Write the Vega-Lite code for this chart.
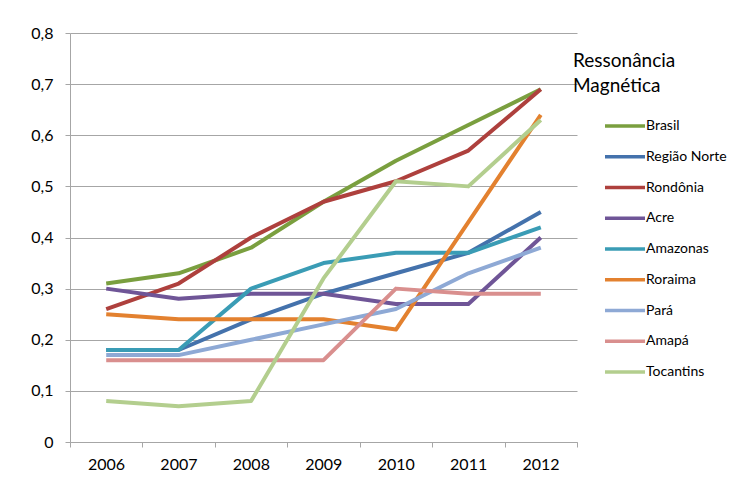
{
  "$schema": "https://vega.github.io/schema/vega-lite/v6.json",
  "width": 507,
  "height": 409,
  "autosize": {"type": "none"},
  "padding": {"left": 70, "top": 33, "right": 156, "bottom": 41},
  "background": "white",
  "config": {
    "font": "Lato",
    "view": {"stroke": null},
    "axis": {"labelFont": "Lato", "labelFontSize": 16, "labelColor": "#000000", "domainColor": "#a6a6a6", "tickColor": "#a6a6a6", "gridColor": "#a6a6a6", "domainWidth": 1, "tickWidth": 1, "gridWidth": 1, "tickSize": 5, "title": null}
  },
  "data": {"values": [
    {"regiao": "Brasil", "ano": 2006, "valor": 0.31},
    {"regiao": "Brasil", "ano": 2007, "valor": 0.33},
    {"regiao": "Brasil", "ano": 2008, "valor": 0.38},
    {"regiao": "Brasil", "ano": 2009, "valor": 0.47},
    {"regiao": "Brasil", "ano": 2010, "valor": 0.55},
    {"regiao": "Brasil", "ano": 2011, "valor": 0.62},
    {"regiao": "Brasil", "ano": 2012, "valor": 0.69},
    {"regiao": "Região Norte", "ano": 2006, "valor": 0.18},
    {"regiao": "Região Norte", "ano": 2007, "valor": 0.18},
    {"regiao": "Região Norte", "ano": 2008, "valor": 0.24},
    {"regiao": "Região Norte", "ano": 2009, "valor": 0.29},
    {"regiao": "Região Norte", "ano": 2010, "valor": 0.33},
    {"regiao": "Região Norte", "ano": 2011, "valor": 0.37},
    {"regiao": "Região Norte", "ano": 2012, "valor": 0.45},
    {"regiao": "Rondônia", "ano": 2006, "valor": 0.26},
    {"regiao": "Rondônia", "ano": 2007, "valor": 0.31},
    {"regiao": "Rondônia", "ano": 2008, "valor": 0.40},
    {"regiao": "Rondônia", "ano": 2009, "valor": 0.47},
    {"regiao": "Rondônia", "ano": 2010, "valor": 0.51},
    {"regiao": "Rondônia", "ano": 2011, "valor": 0.57},
    {"regiao": "Rondônia", "ano": 2012, "valor": 0.69},
    {"regiao": "Acre", "ano": 2006, "valor": 0.30},
    {"regiao": "Acre", "ano": 2007, "valor": 0.28},
    {"regiao": "Acre", "ano": 2008, "valor": 0.29},
    {"regiao": "Acre", "ano": 2009, "valor": 0.29},
    {"regiao": "Acre", "ano": 2010, "valor": 0.27},
    {"regiao": "Acre", "ano": 2011, "valor": 0.27},
    {"regiao": "Acre", "ano": 2012, "valor": 0.40},
    {"regiao": "Amazonas", "ano": 2006, "valor": 0.18},
    {"regiao": "Amazonas", "ano": 2007, "valor": 0.18},
    {"regiao": "Amazonas", "ano": 2008, "valor": 0.30},
    {"regiao": "Amazonas", "ano": 2009, "valor": 0.35},
    {"regiao": "Amazonas", "ano": 2010, "valor": 0.37},
    {"regiao": "Amazonas", "ano": 2011, "valor": 0.37},
    {"regiao": "Amazonas", "ano": 2012, "valor": 0.42},
    {"regiao": "Roraima", "ano": 2006, "valor": 0.25},
    {"regiao": "Roraima", "ano": 2007, "valor": 0.24},
    {"regiao": "Roraima", "ano": 2008, "valor": 0.24},
    {"regiao": "Roraima", "ano": 2009, "valor": 0.24},
    {"regiao": "Roraima", "ano": 2010, "valor": 0.22},
    {"regiao": "Roraima", "ano": 2011, "valor": 0.43},
    {"regiao": "Roraima", "ano": 2012, "valor": 0.64},
    {"regiao": "Pará", "ano": 2006, "valor": 0.17},
    {"regiao": "Pará", "ano": 2007, "valor": 0.17},
    {"regiao": "Pará", "ano": 2008, "valor": 0.20},
    {"regiao": "Pará", "ano": 2009, "valor": 0.23},
    {"regiao": "Pará", "ano": 2010, "valor": 0.26},
    {"regiao": "Pará", "ano": 2011, "valor": 0.33},
    {"regiao": "Pará", "ano": 2012, "valor": 0.38},
    {"regiao": "Amapá", "ano": 2006, "valor": 0.16},
    {"regiao": "Amapá", "ano": 2007, "valor": 0.16},
    {"regiao": "Amapá", "ano": 2008, "valor": 0.16},
    {"regiao": "Amapá", "ano": 2009, "valor": 0.16},
    {"regiao": "Amapá", "ano": 2010, "valor": 0.30},
    {"regiao": "Amapá", "ano": 2011, "valor": 0.29},
    {"regiao": "Amapá", "ano": 2012, "valor": 0.29},
    {"regiao": "Tocantins", "ano": 2006, "valor": 0.08},
    {"regiao": "Tocantins", "ano": 2007, "valor": 0.07},
    {"regiao": "Tocantins", "ano": 2008, "valor": 0.08},
    {"regiao": "Tocantins", "ano": 2009, "valor": 0.32},
    {"regiao": "Tocantins", "ano": 2010, "valor": 0.51},
    {"regiao": "Tocantins", "ano": 2011, "valor": 0.50},
    {"regiao": "Tocantins", "ano": 2012, "valor": 0.63}
  ]},
  "mark": {"type": "line", "strokeWidth": 4, "strokeCap": "butt", "strokeJoin": "round"},
  "encoding": {
    "x": {
      "field": "ano", "type": "quantitative",
      "scale": {"domain": [2005.5, 2012.5], "nice": false, "zero": false},
      "axis": {
        "values": [2005.5, 2006.5, 2007.5, 2008.5, 2009.5, 2010.5, 2011.5, 2012.5],
        "labelExpr": "datum.value < 2012 ? toString(datum.value + 0.5) : ''",
        "labelOffset": 36,
        "labelPadding": 9,
        "labelAlign": "center",
        "labelFlush": false,
        "labelOverlap": false,
        "grid": false
      }
    },
    "y": {
      "field": "valor", "type": "quantitative",
      "scale": {"domain": [0, 0.8], "nice": false},
      "axis": {
        "values": [0, 0.1, 0.2, 0.3, 0.4, 0.5, 0.6, 0.7, 0.8],
        "labelExpr": "datum.value == 0 ? '0' : replace(format(datum.value, '.1f'), '.', ',')",
        "labelPadding": 12,
        "grid": true
      }
    },
    "color": {
      "field": "regiao", "type": "nominal",
      "scale": {
        "domain": ["Brasil", "Região Norte", "Rondônia", "Acre", "Amazonas", "Roraima", "Pará", "Amapá", "Tocantins"],
        "range": ["#7A9F3F", "#4472AC", "#AE403D", "#6F5597", "#3A9CB5", "#E3812F", "#8EA9D5", "#D98F8E", "#B3CE8E"]
      },
      "legend": {
        "orient": "none",
        "legendX": 503,
        "legendY": 19,
        "title": ["Ressonância", "Magnética"],
        "titleFont": "Lato",
        "titleFontSize": 19,
        "titleFontWeight": "normal",
        "titleColor": "#000000",
        "titleLineHeight": 25,
        "titlePadding": 20,
        "titleLimit": 300,
        "symbolType": "stroke",
        "symbolSize": 1600,
        "symbolStrokeWidth": 3.5,
        "symbolOffset": 30,
        "clipHeight": 20,
        "rowPadding": 10.75,
        "labelOffset": -1,
        "labelFont": "Lato",
        "labelFontSize": 14,
        "labelColor": "#000000",
        "labelLimit": 200
      }
    }
  }
}
